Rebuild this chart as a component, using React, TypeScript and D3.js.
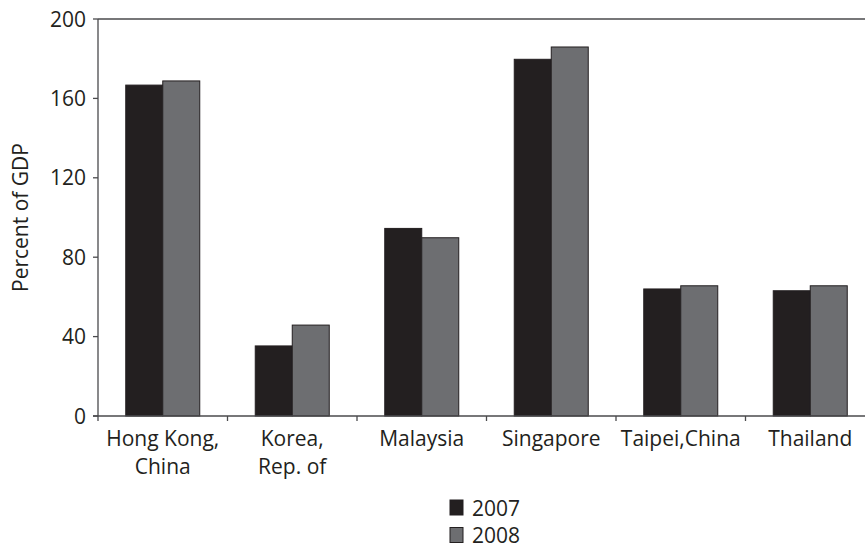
import React from "react";
import * as d3 from "d3";

const categories: string[][] = [
  ["Hong Kong,", "China"],
  ["Korea,", "Rep. of"],
  ["Malaysia"],
  ["Singapore"],
  ["Taipei,China"],
  ["Thailand"],
];
const seriesNames = ["2007", "2008"];
const values2007 = [166.7, 35.3, 94.5, 179.7, 64.0, 63.1];
const values2008 = [168.8, 45.8, 89.8, 185.9, 65.6, 65.6];
const yTicks = [0, 40, 80, 120, 160, 200];
const colors = ["#231f20", "#6d6e71"];

const W = 865;
const H = 548;
const left = 98;
const right = 875;
const top = 19;
const bottom = 416;
const font = "'Open Sans', sans-serif";
const textColor = "#231f20";
const axisColor = "#4a4a4c";

export default function App() {
  const keys = categories.map((c) => c.join(" "));
  const x0 = d3.scaleBand<string>().domain(keys).range([left, right]).padding(0);
  const x1 = d3
    .scaleBand<string>()
    .domain(seriesNames)
    .range([0, x0.bandwidth()])
    .paddingInner(0)
    .paddingOuter(0.75);
  const y = d3.scaleLinear().domain([0, 200]).range([bottom, top]);
  const series = [values2007, values2008];

  return (
    <svg
      width={W}
      height={H}
      style={{ position: "absolute", left: 0, top: 0, background: "#fff" }}
      fontFamily={font}
    >
      {/* bars */}
      {keys.map((k, i) => (
        <g key={k} transform={`translate(${x0(k)},0)`}>
          {seriesNames.map((s, j) => (
            <rect
              key={s}
              x={x1(s)}
              y={y(series[j][i])}
              width={x1.bandwidth()}
              height={y(0) - y(series[j][i])}
              fill={colors[j]}
              stroke="#231f20"
              strokeWidth={1}
            />
          ))}
        </g>
      ))}
      {/* frame */}
      <line x1={left} x2={right} y1={top} y2={top} stroke={axisColor} strokeWidth={1.3} />
      <line x1={left} x2={left} y1={top} y2={bottom + 5} stroke={axisColor} strokeWidth={1.3} />
      <line x1={left - 5} x2={right} y1={bottom} y2={bottom} stroke={axisColor} strokeWidth={1.3} />
      {/* y ticks */}
      {yTicks.map((t) => (
        <g key={t}>
          <line x1={left - 5} x2={left} y1={y(t)} y2={y(t)} stroke={axisColor} strokeWidth={1.3} />
          <text
            x={left - 12}
            y={y(t)}
            dy="0.36em"
            textAnchor="end"
            fontSize={21}
            fill={textColor}
          >
            {t}
          </text>
        </g>
      ))}
      {/* x ticks */}
      {keys.map((k) => (
        <line
          key={k}
          x1={(x0(k) as number) + x0.bandwidth()}
          x2={(x0(k) as number) + x0.bandwidth()}
          y1={bottom}
          y2={bottom + 5}
          stroke={axisColor}
          strokeWidth={1.3}
        />
      ))}
      {/* x labels */}
      {categories.map((lines, i) => (
        <text
          key={keys[i]}
          x={(x0(keys[i]) as number) + x0.bandwidth() / 2}
          y={446}
          textAnchor="middle"
          fontSize={21}
          fill={textColor}
        >
          {lines.map((l, li) => (
            <tspan key={li} x={(x0(keys[i]) as number) + x0.bandwidth() / 2} dy={li === 0 ? 0 : 28}>
              {l}
            </tspan>
          ))}
        </text>
      ))}
      {/* y label */}
      <text
        transform={`translate(28,${(top + bottom) / 2}) rotate(-90)`}
        textAnchor="middle"
        fontSize={21}
        fill={textColor}
      >
        Percent of GDP
      </text>
      {/* legend */}
      {seriesNames.map((s, j) => (
        <g key={s} transform={`translate(450,${500 + j * 27.5})`}>
          <rect x={0} y={0} width={13} height={15} fill={colors[j]} stroke="#231f20" strokeWidth={1} />
          <text x={22} y={15.5} fontSize={21} fill={textColor}>
            {s}
          </text>
        </g>
      ))}
    </svg>
  );
}
